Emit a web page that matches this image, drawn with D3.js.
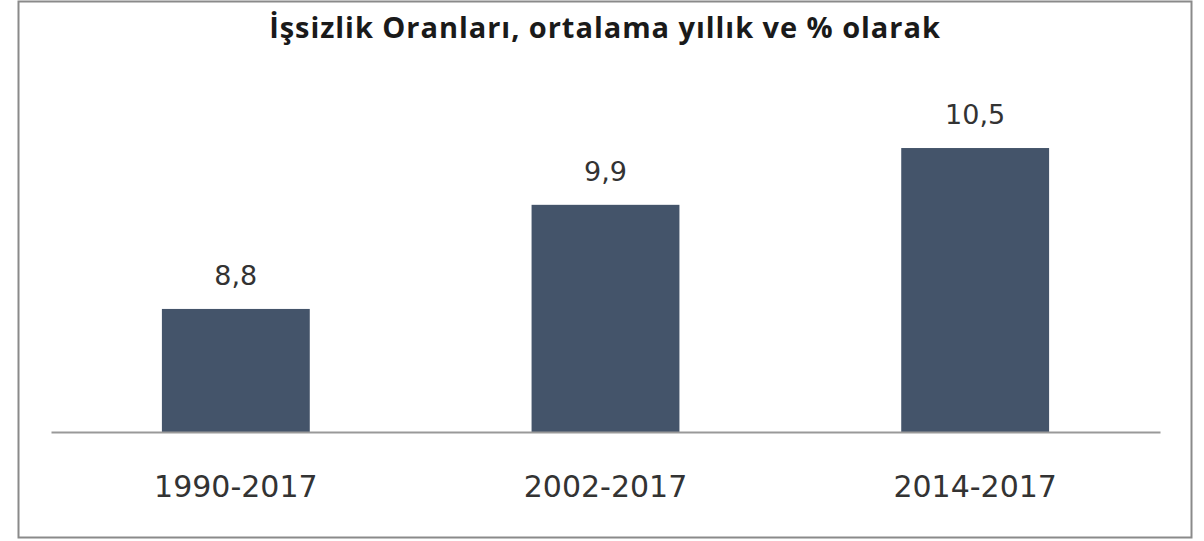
<!DOCTYPE html>
<html><head><meta charset="utf-8">
<script src="https://cdn.jsdelivr.net/npm/d3@7"></script>
<style>html,body{margin:0;padding:0;background:#fff;}svg{display:block;}
.num{font-family:"DejaVu Sans",Verdana,sans-serif;}
</style>
</head><body>
<svg id="chart" width="1204" height="541"></svg>
<script>
const title = "İşsizlik Oranları, ortalama yıllık ve % olarak";
const categories = ["1990-2017", "2002-2017", "2014-2017"];
const values = [8.8, 9.9, 10.5];
const valueLabels = ["8,8", "9,9", "10,5"];

const svg = d3.select("#chart");
svg.append("rect").attr("x", 18.5).attr("y", 1.5).attr("width", 1173).attr("height", 536)
  .attr("fill", "#fff").attr("stroke", "#8a8a8a").attr("stroke-width", 2);

const x = d3.scaleBand().domain(categories).range([51, 1160]).paddingInner(0.6).paddingOuter(0.3);
const y = d3.scaleLinear().domain([7.5, 11]).range([432, 100.7]);

svg.append("text").attr("x", 605).attr("y", 38).attr("text-anchor", "middle")
  .style("font-family", "'Open Sans', sans-serif").attr("font-weight", "bold").attr("font-size", 29)
  .attr("letter-spacing", 0.95)
  .attr("fill", "#1a1a1a").text(title);

svg.selectAll("rect.bar").data(values).join("rect").attr("class", "bar")
  .attr("x", (d, i) => x(categories[i])).attr("width", x.bandwidth())
  .attr("y", d => y(d)).attr("height", d => y(7.5) - y(d)).attr("fill", "#44546a");

svg.selectAll("text.val").data(values).join("text").attr("class", "val num")
  .attr("x", (d, i) => x(categories[i]) + x.bandwidth() / 2).attr("y", d => y(d) - 24)
  .attr("text-anchor", "middle").style("font-size", "27px")
  .attr("fill", "#333").text((d, i) => valueLabels[i]);

const axis = d3.axisBottom(x).tickSize(0).tickPadding(0);
const g = svg.append("g").attr("transform", `translate(0,${y(7.5)})`).call(axis);
g.attr("font-family", null).attr("font-size", null);
g.select(".domain").attr("stroke", "#999").attr("stroke-width", 2);
g.selectAll(".tick text").attr("dy", null).attr("y", 65).attr("class", "num")
  .style("font-size", "30px").attr("fill", "#333");
</script>
</body></html>
